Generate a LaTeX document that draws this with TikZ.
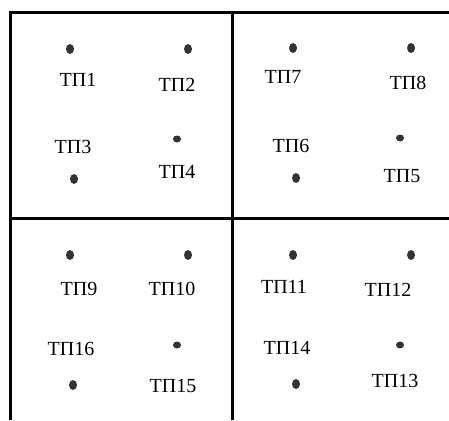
\documentclass[tikz,border=0pt]{standalone}
\usepackage{fontspec}
\setmainfont{Liberation Serif}
\usetikzlibrary{shapes.geometric}
\definecolor{dotgray}{HTML}{333333}
\begin{document}
\begin{tikzpicture}[x=1pt,y=-1pt,
  bigdot/.style={ellipse,fill=dotgray,draw=none,minimum width=8pt,minimum height=10pt,inner sep=0pt},
  smalldot/.style={ellipse,fill=dotgray,draw=none,minimum width=8pt,minimum height=7pt,inner sep=0pt},
  lbl/.style={font=\fontsize{20}{24}\selectfont,inner sep=0pt},
  frame/.style={line width=3pt,black,line join=miter}]
\useasboundingbox (0,0) rectangle (449,420);
% frame
\coordinate (tr) at (449,13);
\coordinate (tl) at (10,13);
\coordinate (bl) at (10,420);
\coordinate (tm) at (232.5,13);
\coordinate (bm) at (232.5,420);
\coordinate (ml) at (10,218.5);
\coordinate (mr) at (449,218.5);
\draw[frame] (tr) -- (tl) -- (bl);
\draw[frame] (tm) -- (bm);
\draw[frame] (ml) -- (mr);
% top-left block
\node[bigdot] (d1) at (70,49) {};
\node[bigdot] (d2) at (188,49) {};
\node[bigdot] (d3) at (74,179) {};
\node[smalldot] (d4) at (177,139) {};
\node[lbl] (l1) at (78,80) {ТП1};
\node[lbl] (l2) at (177,85) {ТП2};
\node[lbl] (l3) at (73,147) {ТП3};
\node[lbl] (l4) at (177,172) {ТП4};
% top-right block
\node[bigdot] (d7) at (293,48) {};
\node[bigdot] (d8) at (411,48) {};
\node[bigdot] (d6) at (296,178) {};
\node[smalldot] (d5) at (400,138) {};
\node[lbl] (l7) at (283,77) {ТП7};
\node[lbl] (l8) at (408,83) {ТП8};
\node[lbl] (l6) at (291,146) {ТП6};
\node[lbl] (l5) at (402,176) {ТП5};
% bottom-left block
\node[bigdot] (d9) at (70,255) {};
\node[bigdot] (d10) at (188,255) {};
\node[bigdot] (d16) at (73,385) {};
\node[smalldot] (d15) at (177,345) {};
\node[lbl] (l9) at (79,289) {ТП9};
\node[lbl] (l10) at (172,289) {ТП10};
\node[lbl] (l16) at (71,349) {ТП16};
\node[lbl] (l15) at (173,386) {ТП15};
% bottom-right block
\node[bigdot] (d11) at (293,255) {};
\node[bigdot] (d12) at (411,255) {};
\node[bigdot] (d14) at (296,384) {};
\node[smalldot] (d13) at (400,345) {};
\node[lbl] (l11) at (284,287) {ТП11};
\node[lbl] (l12) at (388,290) {ТП12};
\node[lbl] (l14) at (287,348) {ТП14};
\node[lbl] (l13) at (395,381) {ТП13};
\end{tikzpicture}
\end{document}
